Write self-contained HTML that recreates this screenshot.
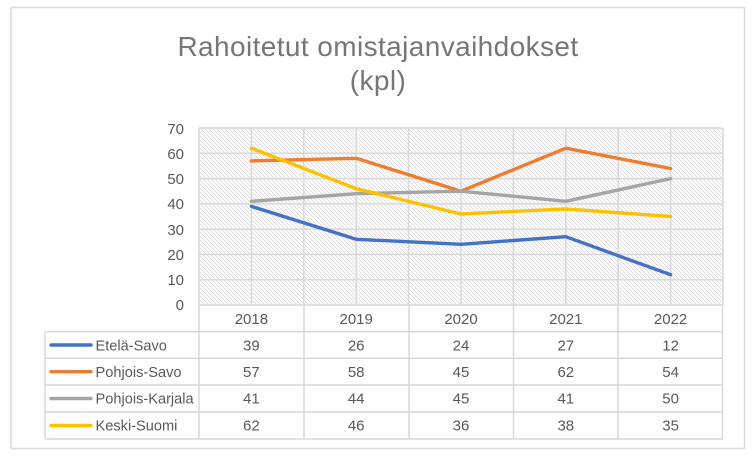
<!DOCTYPE html>
<html><head><meta charset="utf-8"><style>
html,body{margin:0;padding:0;background:#fff;}
svg{display:block;}
text{font-family:"Liberation Sans",Arial,sans-serif;}
</style></head><body>
<svg width="756" height="459" viewBox="0 0 756 459" xmlns="http://www.w3.org/2000/svg">
<defs>
<pattern id="h" patternUnits="userSpaceOnUse" width="4" height="4">
<path d="M0,0 L4,4 M-1,3 L1,5 M3,-1 L5,1" stroke="#d4d4d4" stroke-width="0.7"/>
</pattern>
</defs>
<rect x="0" y="0" width="756" height="459" fill="#fff"/>
<rect x="11" y="7.5" width="733.5" height="441" fill="#fff" stroke="#d9d9d9" stroke-width="1.5"/>
<text x="378" y="56" font-size="28" fill="#767676" text-anchor="middle" letter-spacing="0.4">Rahoitetut omistajanvaihdokset</text>
<text x="378" y="90" font-size="28" fill="#767676" text-anchor="middle" letter-spacing="0.4">(kpl)</text>
<!-- plot area -->
<rect x="199" y="128" width="524" height="177" fill="url(#h)"/>
<g stroke="#d9d9d9" stroke-width="1.5" fill="none">
<line x1="199" y1="128" x2="723" y2="128"/>
<line x1="199" y1="153.3" x2="723" y2="153.3"/>
<line x1="199" y1="178.6" x2="723" y2="178.6"/>
<line x1="199" y1="203.9" x2="723" y2="203.9"/>
<line x1="199" y1="229.1" x2="723" y2="229.1"/>
<line x1="199" y1="254.4" x2="723" y2="254.4"/>
<line x1="199" y1="279.7" x2="723" y2="279.7"/>
<line x1="199" y1="305" x2="723" y2="305"/>
<line x1="199" y1="128" x2="199" y2="305"/>
<line x1="251.4" y1="128" x2="251.4" y2="305"/>
<line x1="303.8" y1="128" x2="303.8" y2="305"/>
<line x1="356.2" y1="128" x2="356.2" y2="305"/>
<line x1="408.6" y1="128" x2="408.6" y2="305"/>
<line x1="461" y1="128" x2="461" y2="305"/>
<line x1="513.4" y1="128" x2="513.4" y2="305"/>
<line x1="565.8" y1="128" x2="565.8" y2="305"/>
<line x1="618.2" y1="128" x2="618.2" y2="305"/>
<line x1="670.6" y1="128" x2="670.6" y2="305"/>
<line x1="723" y1="128" x2="723" y2="305"/>
</g>
<!-- y labels -->
<g font-size="15" fill="#595959" text-anchor="end">
<text x="184" y="134">70</text>
<text x="184" y="159">60</text>
<text x="184" y="184">50</text>
<text x="184" y="209">40</text>
<text x="184" y="235">30</text>
<text x="184" y="260">20</text>
<text x="184" y="285">10</text>
<text x="184" y="310">0</text>
</g>
<!-- series -->
<g fill="none" stroke-width="3.4" stroke-linejoin="round" stroke-linecap="round">
<polyline stroke="#4472C4" points="251.4,206.4 356.2,239.3 461,244.3 565.8,236.7 670.6,274.7"/>
<polyline stroke="#ED7D31" points="251.4,160.9 356.2,158.3 461,191.2 565.8,148.2 670.6,168.5"/>
<polyline stroke="#A5A5A5" points="251.4,201.3 356.2,193.7 461,191.2 565.8,201.3 670.6,178.6"/>
<polyline stroke="#FFC000" points="251.4,148.2 356.2,188.7 461,214 565.8,208.9 670.6,216.5"/>
</g>
<!-- table -->
<g stroke="#d9d9d9" stroke-width="1.5" fill="none">
<line x1="199" y1="305" x2="199" y2="439"/>
<line x1="304" y1="305" x2="304" y2="439"/>
<line x1="409" y1="305" x2="409" y2="439"/>
<line x1="513.5" y1="305" x2="513.5" y2="439"/>
<line x1="618" y1="305" x2="618" y2="439"/>
<line x1="722.5" y1="305" x2="722.5" y2="439"/>
<line x1="45" y1="331.7" x2="45" y2="439"/>
<line x1="45" y1="331.7" x2="723" y2="331.7"/>
<line x1="45" y1="358.3" x2="723" y2="358.3"/>
<line x1="45" y1="385" x2="723" y2="385"/>
<line x1="45" y1="412" x2="723" y2="412"/>
<line x1="45" y1="439" x2="723" y2="439"/>
</g>
<g font-size="15" fill="#595959" text-anchor="middle">
<text x="251.4" y="324">2018</text><text x="356.2" y="324">2019</text><text x="461" y="324">2020</text><text x="565.8" y="324">2021</text><text x="670.6" y="324">2022</text>
<text x="251.4" y="350.5">39</text><text x="356.2" y="350.5">26</text><text x="461" y="350.5">24</text><text x="565.8" y="350.5">27</text><text x="670.6" y="350.5">12</text>
<text x="251.4" y="377">57</text><text x="356.2" y="377">58</text><text x="461" y="377">45</text><text x="565.8" y="377">62</text><text x="670.6" y="377">54</text>
<text x="251.4" y="403.5">41</text><text x="356.2" y="403.5">44</text><text x="461" y="403.5">45</text><text x="565.8" y="403.5">41</text><text x="670.6" y="403.5">50</text>
<text x="251.4" y="430.5">62</text><text x="356.2" y="430.5">46</text><text x="461" y="430.5">36</text><text x="565.8" y="430.5">38</text><text x="670.6" y="430.5">35</text>
</g>
<g stroke-width="3.4" stroke-linecap="round">
<line x1="51" y1="345" x2="91" y2="345" stroke="#4472C4"/>
<line x1="51" y1="371.7" x2="91" y2="371.7" stroke="#ED7D31"/>
<line x1="51" y1="398.5" x2="91" y2="398.5" stroke="#A5A5A5"/>
<line x1="51" y1="425.5" x2="91" y2="425.5" stroke="#FFC000"/>
</g>
<g font-size="14.6" fill="#595959">
<text x="95.5" y="350.5">Etelä-Savo</text>
<text x="95.5" y="377">Pohjois-Savo</text>
<text x="95.5" y="403.5">Pohjois-Karjala</text>
<text x="95.5" y="430.5">Keski-Suomi</text>
</g>
</svg>
</body></html>
